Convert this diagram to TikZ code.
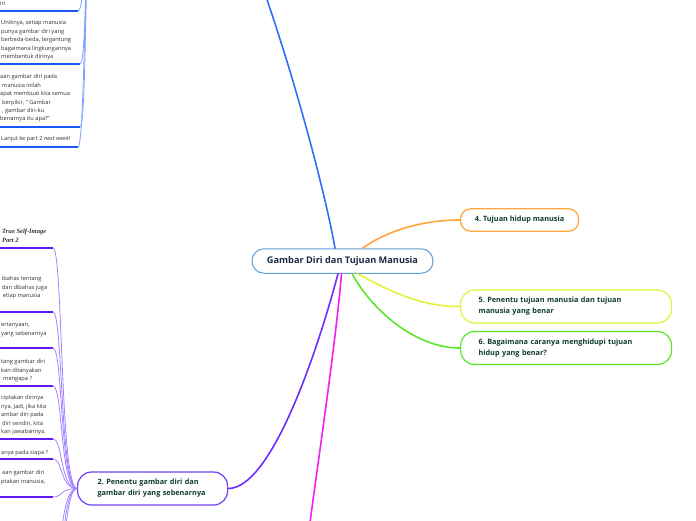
\documentclass[tikz,border=0pt]{standalone}
\usepackage{fontspec}
\setmainfont{Open Sans}
\newfontfamily\serifit{Liberation Serif}
\frenchspacing
\definecolor{cblue}{HTML}{2F6DFA}
\definecolor{cblueul}{HTML}{1C56F5}
\definecolor{cbluesub}{HTML}{7BA0FF}
\definecolor{cpurple}{HTML}{6A2EFF}
\definecolor{cpurpleb}{HTML}{7240F6}
\definecolor{cpurpleul}{HTML}{6418F0}
\definecolor{cpurplesub}{HTML}{A482FF}
\definecolor{cmagenta}{HTML}{F020F0}
\definecolor{corange}{HTML}{FFA53A}
\definecolor{cyellow}{HTML}{E2F23A}
\definecolor{cgreen}{HTML}{5CE62A}
\definecolor{ccentre}{HTML}{5A9FD8}
\definecolor{ctext}{HTML}{0F3D30}
\definecolor{cctext}{HTML}{1A2B48}
\definecolor{cleaf}{HTML}{333333}
\tikzset{
  centre/.style={draw=ccentre, line width=1pt, rounded corners=12pt, fill=white,
    minimum width=181pt, minimum height=24.5pt, inner sep=0pt, text=cctext,
    font=\bfseries\fontsize{9.2}{11}\selectfont},
  topic/.style={line width=1.2pt, fill=white, text=ctext, inner ysep=0pt,
    font=\frenchspacing\bfseries\fontsize{7.3}{11}\selectfont},
  widetopic/.style={topic, text width=175pt, inner xsep=18pt, minimum height=33pt,
    align=left, rounded corners=14pt, anchor=west},
  leaf/.style={inner sep=0pt, anchor=north west, align=left, text=cleaf,
    font=\frenchspacing\fontsize{5.7}{8.4}\selectfont},
  mainl/.style={line width=1.6pt, line cap=round},
  ulblue/.style={draw=cblueul, line width=1.2pt},
  subblue/.style={draw=cbluesub, line width=0.8pt},
  ulpurple/.style={draw=cpurpleul, line width=1.2pt},
  subpurple/.style={draw=cpurplesub, line width=0.8pt}
}
\begin{document}
\begin{tikzpicture}[x=1pt,y=-1pt]
\useasboundingbox (0,0) rectangle (696,520);
\clip (0,0) rectangle (696,520);

% off-frame coordinates
\coordinate (n1r) at (245,-60);
\coordinate (n1l) at (92,-70);
\coordinate (n3) at (305,560);

% main nodes
\node[centre] (c) at (342.5,261) {Gambar Diri dan Tujuan Manusia};
\node[topic, draw=corange, minimum width=118pt, minimum height=22.5pt,
  rounded corners=10pt, inner xsep=0pt, anchor=west] (n4) at (460,220) {4. Tujuan hidup manusia};
\node[widetopic, draw=cyellow] (n5) at (460,306.5) {5. Penentu tujuan manusia dan tujuan\\manusia yang benar};
\node[widetopic, draw=cgreen] (n6) at (460,348) {6. Bagaimana caranya menghidupi tujuan\\hidup yang benar?};
\node[topic, draw=cpurpleb, text width=110pt, inner xsep=20pt, minimum height=33pt,
  align=left, rounded corners=14pt, anchor=west] (n2) at (77,488.5) {2. Penentu gambar diri dan\\gambar diri yang sebenarnya};

% main connectors
\draw[mainl, draw=cblue] ([xshift=-7.5pt]c.north) .. controls (325,190) and (285,40) .. (n1r);
\draw[mainl, draw=corange] ([xshift=20pt]c.north) .. controls (385,232) and (420,220) .. (n4.west);
\draw[mainl, draw=cyellow] ([xshift=15pt]c.south) .. controls (392,292) and (420,306.5) .. (n5.west);
\draw[mainl, draw=cgreen] ([xshift=9.5pt]c.south) .. controls (372,310) and (415,348) .. (n6.west);
\draw[mainl, draw=cpurple] ([xshift=-4.5pt]c.south) .. controls (315,360) and (270,488.5) .. (n2.east);
\draw[mainl, draw=cmagenta] ([xshift=-1pt]c.south) .. controls (335,350) and (318,460) .. (n3);

% upper-left leaves (branch 1)
\node[leaf] (u1) at (0,1.3) {iri};
\node[leaf] (u2) at (1,20.3) {Uniknya, setiap manusia\\punya gambar diri yang\\berbeda-beda, tergantung\\bagaimana lingkungannya\\membentuk dirinya};
\node[leaf] (u3) at (0,74.3) {aan gambar diri pada\\\hspace*{2pt}manusia inilah\\apat membuat kita semua\\\hspace*{2pt}berpikir, " Gambar\\\hspace*{2pt}, gambar diri-ku\\benarnya itu apa?"};
\node[leaf] (u4) at (1,136.3) {Lanjut ke part 2 \textit{next week!}};

\coordinate (eu1) at (78,11);
\coordinate (eu2) at (80,64);
\coordinate (eu3) at (80,127);
\coordinate (eu4) at (78,147);
\foreach \e in {eu1, eu2, eu3, eu4}{
  \draw[ulblue] (\e) -- ++(-90,0);
  \draw[subblue] (\e) .. controls ([xshift=7pt]\e) and (84,-70) .. (n1l);
}

% lower-left leaves (branch 2)
\node[leaf, font=\serifit\bfseries\itshape\fontsize{6.5}{9}\selectfont] (l0) at (2,228.5) {True Self-Image\\Part 2};
\node[leaf] (la) at (1.7,276.3) {ibahas tentang\\dan dibahas juga\\\hspace*{1pt}etiap manusia};
\node[leaf] (lb) at (1,322.8) {ertanyaan,\\yang sebenarnya};
\node[leaf] (lc) at (1,359.3) {tang gambar diri\\kan ditanyakan\\\hspace*{2pt}mengapa ?};
\node[leaf] (ld) at (1,395.3) {ciptakan dirinya\\nya. Jadi, jika kita\\ambar diri pada\\\hspace*{1pt}diri sendiri, kita\\kan jawabannya.};
\node[leaf] (le) at (1,450.3) {anya pada siapa ?};
\node[leaf] (lf) at (1,470.3) {\hspace*{1pt}aan gambar diri\\ptakan manusia,};

\foreach \y in {248,312,348,386,439,459,497}{
  \coordinate (e) at (53,\y);
  \draw[ulpurple] (e) -- ++(-60,0);
  \draw[subpurple] (e) .. controls (63,\y) and (60,488.5) .. (n2.west);
}
\foreach \y in {560,600,650}{
  \coordinate (e) at (53,\y);
  \draw[subpurple] (e) .. controls (63,\y) and (60,488.5) .. (n2.west);
}
\end{tikzpicture}
\end{document}
